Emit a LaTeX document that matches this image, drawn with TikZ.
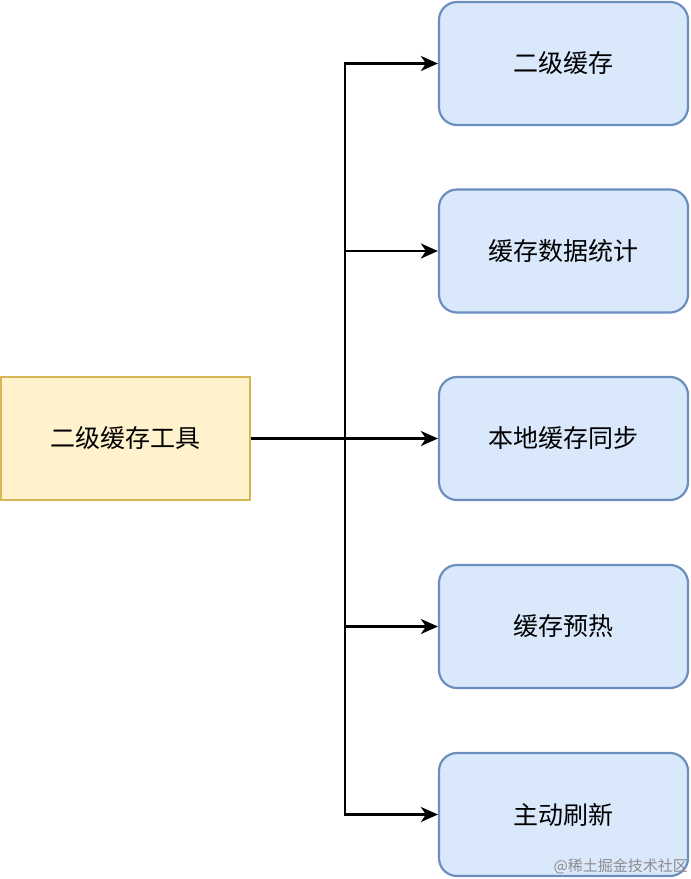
\documentclass[tikz,border=0pt]{standalone}
\usepackage{fontspec}
\newfontfamily\cjk{Noto Sans CJK SC}
\usetikzlibrary{arrows.meta}
\definecolor{bfill}{HTML}{DAE8FC}
\definecolor{bdraw}{HTML}{6C8EBF}
\definecolor{yfill}{HTML}{FFF2CC}
\definecolor{ydraw}{HTML}{D6B656}
\tikzset{
  x=1pt, y=-1pt,
  leaf/.style={draw=bdraw, fill=bfill, line width=2.2pt, rounded corners=18pt,
    minimum width=249pt, minimum height=123pt, inner sep=0pt,
    font=\cjk\fontsize{25}{30}\selectfont},
  root/.style={draw=ydraw, fill=yfill, line width=2.2pt,
    minimum width=249pt, minimum height=123pt, inner sep=0pt,
    font=\cjk\fontsize{25}{30}\selectfont},
  conn/.style={line width=2.4pt, -{Stealth[length=17pt,width=15pt,inset=5pt]}},
  trunk/.style={line width=2.4pt}
}
\begin{document}
\begin{tikzpicture}
\useasboundingbox (0,0) rectangle (691,879);
\node[root] (r) at (125.5,438.5) {二级缓存工具};
\node[leaf] (a) at (563.5,63.5) {二级缓存};
\node[leaf] (b) at (563.5,251) {缓存数据统计};
\node[leaf] (c) at (563.5,438.5) {本地缓存同步};
\node[leaf] (d) at (563.5,626.5) {缓存预热};
\node[leaf] (e) at (563.5,814.5) {主动刷新};
\coordinate (j) at (345,438.5);
\draw[trunk] (r.east) -- (j);
\foreach \n in {a,b,c,d,e}{
  \draw[conn] (j) |- (\n.west);
}
\node[anchor=east, text=black!45, font=\cjk\fontsize{15}{18}\selectfont, inner sep=0pt] (w) at (688,866) {@稀土掘金技术社区};
\end{tikzpicture}
\end{document}
